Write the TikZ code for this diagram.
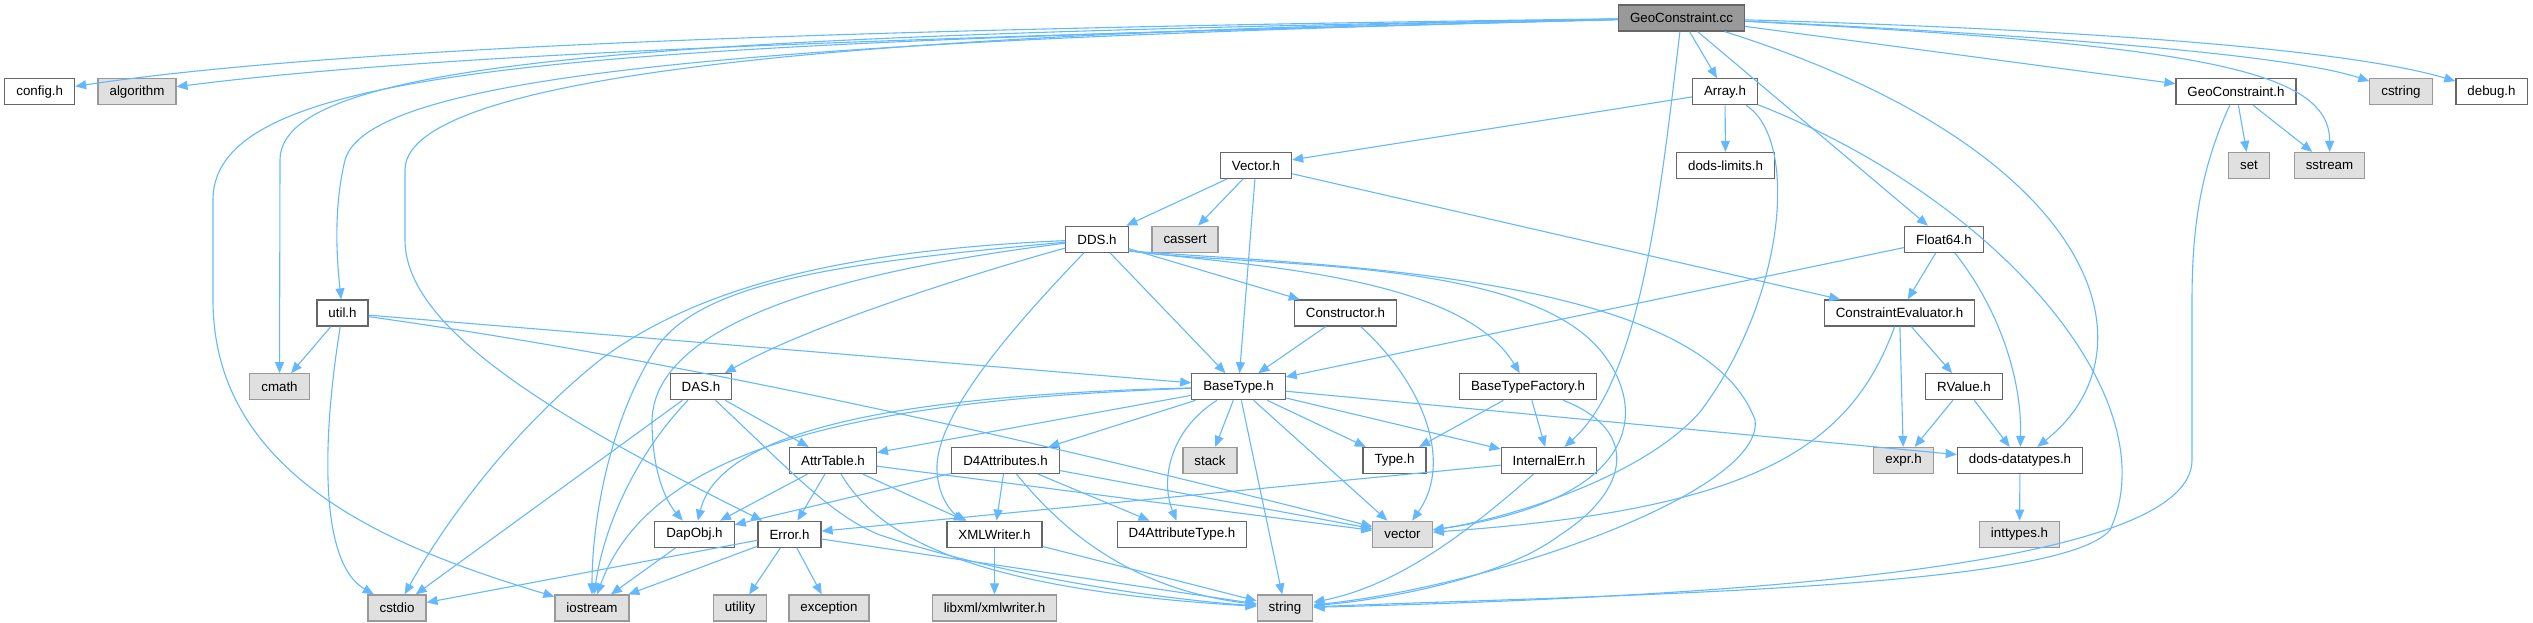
\documentclass[tikz,border=0pt]{standalone}
\usepackage{fontspec}
\setmainfont{Liberation Sans}
\usetikzlibrary{arrows.meta}

\definecolor{depblue}{HTML}{63B8FF}
\definecolor{boxline}{HTML}{666666}
\definecolor{sysfill}{HTML}{E0E0E0}
\definecolor{sysline}{HTML}{999999}
\definecolor{mainfill}{HTML}{999999}

\tikzset{
  hdrbox/.style={draw=boxline, fill=white, line width=1.2pt, minimum height=26pt,
    inner xsep=11.5pt, inner ysep=0pt, font=\fontsize{13.33}{16}\selectfont},
  sysbox/.style={hdrbox, draw=sysline, fill=sysfill},
  mainbox/.style={hdrbox, fill=mainfill},
  dep/.style={draw=depblue, line width=1.1pt, -{Triangle[length=11pt,width=9pt]}}
}

\begin{document}
\begin{tikzpicture}[x=1pt, y=-1pt]
    \useasboundingbox (0,0) rectangle (2533,623);

    % Row 0
    \node[mainbox] (gcc) at (1681.5,18) {GeoConstraint.cc};
    % Row 1
    \node[hdrbox] (configh) at (39.7,91.75) {config.h};
    \node[sysbox] (algorithm) at (137,91.75) {algorithm};
    \node[hdrbox] (arrayh) at (1725,91.75) {Array.h};
    \node[hdrbox] (geoh) at (2236,91.75) {GeoConstraint.h};
    \node[sysbox] (cstring) at (2401,91.75) {cstring};
    \node[hdrbox] (debugh) at (2491.5,91.75) {debug.h};
    % Row 2
    \node[hdrbox] (vectorh) at (1256,165.5) {Vector.h};
    \node[hdrbox] (limitsh) at (1725.5,165.5) {dods-limits.h};
    \node[sysbox] (set) at (2249,165.5) {set};
    \node[sysbox] (sstream) at (2329.5,165.5) {sstream};
    % Row 3
    \node[hdrbox] (ddsh) at (1097,239.25) {DDS.h};
    \node[sysbox] (cassert) at (1185,239.25) {cassert};
    \node[hdrbox] (floath) at (1944,239.25) {Float64.h};
    % Row 4
    \node[hdrbox] (utilh) at (342.5,313) {util.h};
    \node[hdrbox] (constructorh) at (1345.5,313) {Constructor.h};
    \node[hdrbox] (cevalh) at (1899.5,313) {ConstraintEvaluator.h};
    % Row 5
    \node[sysbox] (cmath) at (279.5,386.75) {cmath};
    \node[hdrbox] (dash) at (701,386.75) {DAS.h};
    \node[hdrbox] (basetypeh) at (1238.5,386.75) {BaseType.h};
    \node[hdrbox] (btfh) at (1528,386.75) {BaseTypeFactory.h};
    \node[hdrbox] (rvalueh) at (1964,386.75) {RValue.h};
    % Row 6
    \node[hdrbox] (attrtableh) at (833,460.5) {AttrTable.h};
    \node[hdrbox] (d4attrh) at (1005.5,460.5) {D4Attributes.h};
    \node[sysbox] (stack) at (1210,460.5) {stack};
    \node[hdrbox] (typeh) at (1394.5,460.5) {Type.h};
    \node[hdrbox] (internalerrh) at (1549,460.5) {InternalErr.h};
    \node[sysbox] (expr) at (1903.5,460.5) {expr.h};
    \node[hdrbox] (dodsdth) at (2020,460.5) {dods-datatypes.h};
    % Row 7
    \node[hdrbox] (dapobjh) at (694.5,534.25) {DapObj.h};
    \node[hdrbox] (errorh) at (789.5,534.25) {Error.h};
    \node[hdrbox] (xmlwriterh) at (994.5,534.25) {XMLWriter.h};
    \node[hdrbox] (d4typeh) at (1182,534.25) {D4AttributeType.h};
    \node[sysbox] (vector) at (1402.5,534.25) {vector};
    \node[sysbox] (inttypes) at (2019.5,534.25) {inttypes.h};
    % Row 8
    \node[sysbox] (cstdio) at (397,608) {cstdio};
    \node[sysbox] (iostream) at (592,608) {iostream};
    \node[sysbox] (utility) at (740,608) {utility};
    \node[sysbox] (exception) at (829,608) {exception};
    \node[sysbox] (libxml) at (994.5,608) {libxml/xmlwriter.h};
    \node[sysbox] (string) at (1285,608) {string};

    % GeoConstraint.cc
    \draw[dep] (gcc) .. controls (900,28) and (350,45) .. (configh);
    \draw[dep] (gcc) .. controls (900,38) and (450,52) .. (algorithm);
    \draw[dep] (gcc) .. controls (600,45) and (213,60) .. (213,200) -- (213,300)
        .. controls (213,480) and (400,550) .. (iostream);
    \draw[dep] (gcc) .. controls (700,35) and (280,55) .. (280,160) -- (cmath);
    \draw[dep] (gcc) .. controls (800,40) and (370,70) .. (345,160)
        .. controls (333,210) and (337,260) .. (utilh);
    \draw[dep] (gcc) .. controls (1000,30) and (405,60) .. (405,170) -- (405,240)
        .. controls (405,330) and (560,420) .. (errorh);
    \draw[dep] (gcc) -- (arrayh);
    \draw[dep] (gcc) -- (floath);
    \draw[dep] (gcc) .. controls (1660,200) and (1640,380) .. (internalerrh);
    \draw[dep] (gcc) .. controls (2100,150) and (2160,350) .. (dodsdth);
    \draw[dep] (gcc) -- (geoh);
    \draw[dep] (gcc) .. controls (2100,38) and (2300,58) .. (cstring);
    \draw[dep] (gcc) .. controls (2100,30) and (2350,50) .. (debugh);
    \draw[dep] (gcc) .. controls (2200,45) and (2330,70) .. (sstream);

    % Array.h
    \draw[dep] (arrayh) -- (vectorh);
    \draw[dep] (arrayh) -- (limitsh);
    \draw[dep] (arrayh) .. controls (1800,140) and (1785,300) .. (1700,412)
        .. controls (1640,480) and (1500,520) .. (vector);
    \draw[dep] (arrayh) .. controls (2000,200) and (2170,400) .. (2110,530)
        .. controls (2060,590) and (1600,595) .. (string);

    % GeoConstraint.h
    \draw[dep] (geoh) -- (set);
    \draw[dep] (geoh) -- (sstream);
    \draw[dep] (geoh) .. controls (2200,170) and (2192,230) .. (2192,300) -- (2192,460)
        .. controls (2192,560) and (1800,595) .. (string);

    % Vector.h
    \draw[dep] (vectorh) -- (ddsh);
    \draw[dep] (vectorh) -- (cassert);
    \draw[dep] (vectorh) -- (basetypeh);
    \draw[dep] (vectorh) -- (cevalh);

    % DDS.h
    \draw[dep] (ddsh) .. controls (850,250) and (700,285) .. (600,360)
        .. controls (500,440) and (435,540) .. (cstdio);
    \draw[dep] (ddsh) .. controls (850,262) and (700,280) .. (655,350)
        .. controls (610,420) and (592,520) .. (iostream);
    \draw[dep] (ddsh) .. controls (850,270) and (655,320) .. (652,420)
        .. controls (652,470) and (665,500) .. (dapobjh);
    \draw[dep] (ddsh) .. controls (950,280) and (800,330) .. (dash);
    \draw[dep] (ddsh) .. controls (1000,340) and (935,420) .. (937,470)
        .. controls (938,500) and (955,515) .. (xmlwriterh);
    \draw[dep] (ddsh) -- (basetypeh);
    \draw[dep] (ddsh) -- (constructorh);
    \draw[dep] (ddsh.-20) .. controls (1250,266) and (1460,275) .. (btfh);
    \draw[dep] (ddsh.-20) .. controls (1250,268) and (1520,255) .. (1600,350)
        .. controls (1650,410) and (1640,500) .. (vector);
    \draw[dep] (ddsh.-20) .. controls (1300,265) and (1700,270) .. (1755,420)
        .. controls (1765,490) and (1500,585) .. (string);

    % util.h
    \draw[dep] (utilh) -- (cmath);
    \draw[dep] (utilh) .. controls (325,420) and (315,560) .. (cstdio);
    \draw[dep] (utilh) -- (basetypeh);
    \draw[dep] (utilh) .. controls (750,370) and (1150,470) .. (vector);

    % Constructor.h
    \draw[dep] (constructorh) -- (basetypeh);
    \draw[dep] (constructorh) .. controls (1420,380) and (1455,460) .. (vector);

    % ConstraintEvaluator.h
    \draw[dep] (cevalh) -- (expr);
    \draw[dep] (cevalh) -- (rvalueh);
    \draw[dep] (cevalh) .. controls (1850,450) and (1750,510) .. (vector);

    % Float64.h
    \draw[dep] (floath) -- (basetypeh);
    \draw[dep] (floath) -- (cevalh);
    \draw[dep] (floath) .. controls (2000,310) and (2022,380) .. (dodsdth);

    % BaseType.h
    \draw[dep] (basetypeh) -- (attrtableh);
    \draw[dep] (basetypeh) .. controls (900,395) and (720,430) .. (dapobjh);
    \draw[dep] (basetypeh) .. controls (850,400) and (650,450) .. (iostream);
    \draw[dep] (basetypeh) -- (d4attrh);
    \draw[dep] (basetypeh) -- (stack);
    \draw[dep] (basetypeh) .. controls (1170,430) and (1160,480) .. (d4typeh);
    \draw[dep] (basetypeh) -- (string);
    \draw[dep] (basetypeh) -- (vector);
    \draw[dep] (basetypeh) -- (typeh);
    \draw[dep] (basetypeh) -- (internalerrh);
    \draw[dep] (basetypeh) -- (dodsdth);

    % BaseTypeFactory.h
    \draw[dep] (btfh) -- (typeh);
    \draw[dep] (btfh) -- (internalerrh);
    \draw[dep] (btfh) .. controls (1640,430) and (1630,490) .. (1560,535)
        .. controls (1500,580) and (1380,600) .. (string);

    % RValue.h
    \draw[dep] (rvalueh) -- (expr);
    \draw[dep] (rvalueh) -- (dodsdth);

    % DAS.h
    \draw[dep] (dash) -- (cstdio);
    \draw[dep] (dash) .. controls (640,450) and (605,520) .. (iostream);
    \draw[dep] (dash) -- (attrtableh);
    \draw[dep] (dash) .. controls (790,470) and (830,515) .. (880,535)
        .. controls (1000,575) and (1150,598) .. (string);

    % AttrTable.h
    \draw[dep] (attrtableh) -- (dapobjh);
    \draw[dep] (attrtableh) -- (errorh);
    \draw[dep] (attrtableh) -- (xmlwriterh);
    \draw[dep] (attrtableh) -- (vector);
    \draw[dep] (attrtableh) .. controls (880,540) and (980,590) .. (string);

    % D4Attributes.h
    \draw[dep] (d4attrh) -- (xmlwriterh);
    \draw[dep] (d4attrh) -- (dapobjh);
    \draw[dep] (d4attrh) -- (d4typeh);
    \draw[dep] (d4attrh) -- (vector);
    \draw[dep] (d4attrh) .. controls (1070,540) and (1140,590) .. (string);

    % InternalErr.h
    \draw[dep] (internalerrh) -- (errorh);
    \draw[dep] (internalerrh) .. controls (1470,530) and (1400,585) .. (string);

    % Error.h
    \draw[dep] (errorh) -- (cstdio);
    \draw[dep] (errorh) -- (iostream);
    \draw[dep] (errorh) -- (utility);
    \draw[dep] (errorh) -- (exception);
    \draw[dep] (errorh) -- (string);

    % leaves
    \draw[dep] (dapobjh) -- (iostream);
    \draw[dep] (xmlwriterh) -- (libxml);
    \draw[dep] (xmlwriterh) -- (string);
    \draw[dep] (dodsdth) -- (inttypes);
\end{tikzpicture}
\end{document}
